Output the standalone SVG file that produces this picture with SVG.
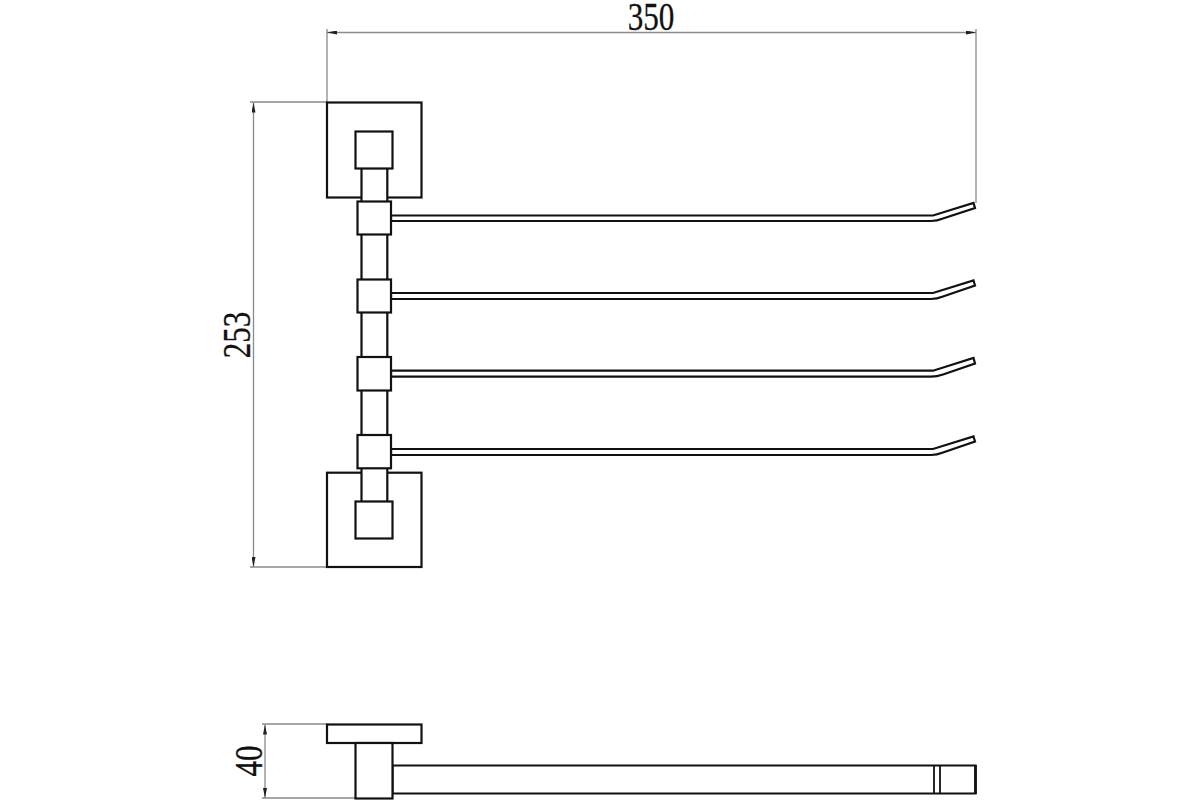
<svg xmlns="http://www.w3.org/2000/svg" width="1200" height="800" viewBox="0 0 1200 800">
<style>
.o{fill:#fff;stroke:#111;stroke-width:2.2;stroke-linejoin:miter}
.n{fill:none;stroke:#111;stroke-width:1.8}
.d{fill:none;stroke:#8a8a8a;stroke-width:1.3}
.t{font-family:"Liberation Serif",serif;font-size:41px;fill:#111;stroke:#111;stroke-width:.3;text-anchor:middle}
</style>
<defs>
<marker id="a" viewBox="0 0 10 4" refX="10" refY="2" markerWidth="10" markerHeight="4" markerUnits="userSpaceOnUse" orient="auto-start-reverse"><path d="M0 0L10 2L0 4z" fill="#222"/></marker>
</defs>
<rect width="1200" height="800" fill="#fff"/>
<g id="dimensions">
<path class="d" d="M327 102V29M976 203V29M327 102H250M327 567H250M327 724H262M356 798H262"/>
<path class="d" d="M327 32.5H976" marker-start="url(#a)" marker-end="url(#a)"/>
<path class="d" d="M253.500 102.500V567" marker-start="url(#a)" marker-end="url(#a)"/>
<path class="d" d="M265 724.500V798" marker-start="url(#a)" marker-end="url(#a)"/>
<text class="t" transform="translate(651 29.500) scale(.76 1)">350</text>
<text class="t" transform="translate(249.500 335) rotate(-90) scale(.76 1)">253</text>
<text class="t" transform="translate(261.500 761) rotate(-90) scale(.76 1)">40</text>
</g>
<g id="front-view">
<rect class="o" x="327" y="102.500" width="94.500" height="95"/>
<rect class="o" x="327" y="472.700" width="94.500" height="94.300"/>
<rect class="o" x="361.500" y="168" width="25.800" height="334"/>
<g id="arms">
<path class="o" d="M391 215.500H933L973.500 203L975 208L943 218.500Q937 221 931 221H391z"/>
<path class="o" d="M391 293H933L973.500 280.500L975 285.500L943 296.500Q937 299 931 299H391z"/>
<path class="o" d="M391 370.700H933L973.500 358L975 363.500L943 374.500Q937 376.700 931 376.700H391z"/>
<path class="o" d="M391 449H933L973.500 436.500L975 441.500L943 452.500Q937 455 931 455H391z"/>
</g>
<rect class="o" x="355.500" y="131.500" width="37" height="37"/>
<rect class="o" x="355.500" y="501.500" width="37" height="37"/>
<rect class="o" x="357.500" y="201.500" width="33.500" height="33"/>
<rect class="o" x="357.500" y="279.500" width="33.500" height="33"/>
<rect class="o" x="357.500" y="357" width="33.500" height="33.500"/>
<rect class="o" x="357.500" y="435" width="33.500" height="33.300"/>
</g>
<g id="side-view">
<rect class="o" x="327" y="724.500" width="94.500" height="18.500"/>
<path class="o" d="M392.500 765.500H975.500V793.500H392.500z"/>
<path class="n" d="M934 765.500V793.500M940 765.500V793.500"/>
<path fill="none" stroke="#111" stroke-width="2.600" d="M975.500 765V794"/>
<rect class="o" x="355.500" y="743" width="37" height="55.500"/>
</g>
</svg>
